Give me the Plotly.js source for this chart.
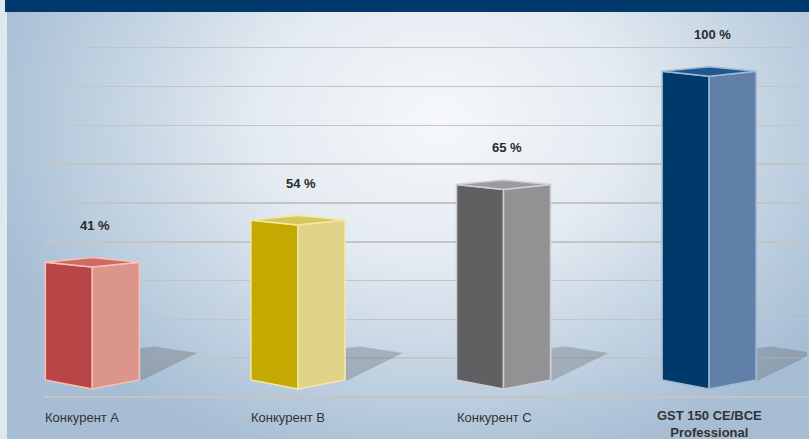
<!DOCTYPE html>
<html>
<head>
<meta charset="utf-8">
<script src="https://cdn.plot.ly/plotly-3.0.1.min.js"></script>
<style>
  html, body { margin: 0; padding: 0; }
  #wrap {
    width: 809px; height: 439px; position: relative; overflow: hidden;
    background:
      linear-gradient(to right, #dfe7ef 0px, #dfe7ef 7px, rgba(0,0,0,0) 7px),
      radial-gradient(ellipse 470px 360px at 440px 120px, #f6f8fb 0%, #e3eaf1 40%, #c3d3e2 70%, #a6bdd4 100%);
  }
  #chart { width: 809px; height: 439px; }
</style>
</head>
<body>
<div id="wrap"><div id="chart"></div></div>
<script>
// ---- data ----
const categories = ['Конкурент А', 'Конкурент В', 'Конкурент С', 'GST 150 CE/BCE<br>Professional'];
const values = [41, 54, 65, 100];
const valueLabels = ['41 %', '54 %', '65 %', '100 %'];
const yTicks = [0, 12, 24, 36, 48, 60, 72, 84, 96, 108];

// ---- styles ----
const frontColors = ['#b94646', '#c4a900', '#606062', '#003a6a'];
const sideColors  = ['#dc958b', '#e0d38a', '#929295', '#6080aa'];
const topColors   = ['#d06a64', '#d6c65c', '#9b9b9e', '#1d5890'];
const edgeColors  = ['#f4c2b8', '#f2e8a8', '#cfcfd1', '#a3b9d3'];

// geometry of the pseudo-3D boxes (axis units)
const hw = 0.2286;        // half width
const botSide = 5.26;     // bottom of left/right corners
const botFront = 2.47;    // bottom of front corner
const topOff = 0.7, frontDrop = 1.5, backRise = 1.4;

const traces = [];
values.forEach((v, i) => {
  const L = i - hw, F = i, R = i + hw;
  const tS = v + topOff, tF = tS - frontDrop, tB = tS + backRise;
  traces.push({
    type: 'scatter', mode: 'lines', fill: 'toself',
    x: [R + 0.005, R + 0.073, R + 0.282, R + 0.005, R + 0.005],
    y: [15.15, 15.6, 13.6, 4.95, 15.15],
    line: { width: 0 }, fillcolor: 'rgba(95,100,108,0.33)', hoverinfo: 'skip'
  });
  traces.push({
    type: 'scatter', mode: 'lines', fill: 'toself',
    x: [L, L, F, F, L], y: [botSide, tS, tF, botFront, botSide],
    line: { color: edgeColors[i], width: 1.5 }, fillcolor: frontColors[i], hoverinfo: 'skip'
  });
  traces.push({
    type: 'scatter', mode: 'lines', fill: 'toself',
    x: [F, F, R, R, F], y: [botFront, tF, tS, botSide, botFront],
    line: { color: edgeColors[i], width: 1.5 }, fillcolor: sideColors[i], hoverinfo: 'skip'
  });
  traces.push({
    type: 'scatter', mode: 'lines', fill: 'toself',
    x: [L, F, R, F, L], y: [tS, tB, tS, tF, tS],
    line: { color: edgeColors[i], width: 1.5 }, fillcolor: topColors[i], hoverinfo: 'skip'
  });
});

const annotations = [];
values.forEach((v, i) => {
  annotations.push({
    x: i + 0.015, y: v + 12.0, xref: 'x', yref: 'y', text: '<b>' + valueLabels[i] + '</b>',
    showarrow: false, xanchor: 'center', yanchor: 'middle',
    font: { family: 'Liberation Sans, Arial, sans-serif', size: 13, color: '#2b2b2b' }
  });
  const last = i === categories.length - 1;
  annotations.push({
    x: last ? i : i - hw - 0.004, y: last ? -8.3 : -6.3, xref: 'x', yref: 'y',
    text: last ? '<b>' + categories[i] + '</b>' : categories[i],
    showarrow: false, xanchor: last ? 'center' : 'left', yanchor: 'middle',
    align: 'center', borderpad: 0,
    font: { family: 'Liberation Sans, Arial, sans-serif', size: 13, color: '#333333' }
  });
});

const layout = {
  width: 809, height: 439,
  margin: { l: 44, r: 2, t: 0, b: 0, pad: 0 },
  paper_bgcolor: 'rgba(0,0,0,0)', plot_bgcolor: 'rgba(0,0,0,0)',
  showlegend: false,
  xaxis: { range: [-0.235, 3.476], showgrid: false, zeroline: false, showticklabels: false, ticks: '', showline: false, fixedrange: true },
  yaxis: { range: [-12.99, 122.76], tickvals: yTicks, showticklabels: false, ticks: '', showgrid: true,
           gridcolor: '#c4c4c4', gridwidth: 1.5, zeroline: true, zerolinecolor: '#c4c4c4', zerolinewidth: 1.5,
           showline: false, fixedrange: true },
  shapes: [{
    type: 'rect', xref: 'paper', yref: 'paper', layer: 'below',
    x0: -0.0511, x1: 1.003, y0: 0.9727, y1: 1.0,
    fillcolor: '#003a6c', line: { width: 0 }
  }],
  annotations: annotations
};

Plotly.newPlot('chart', traces, layout, { displayModeBar: false, staticPlot: true });
</script>
</body>
</html>
